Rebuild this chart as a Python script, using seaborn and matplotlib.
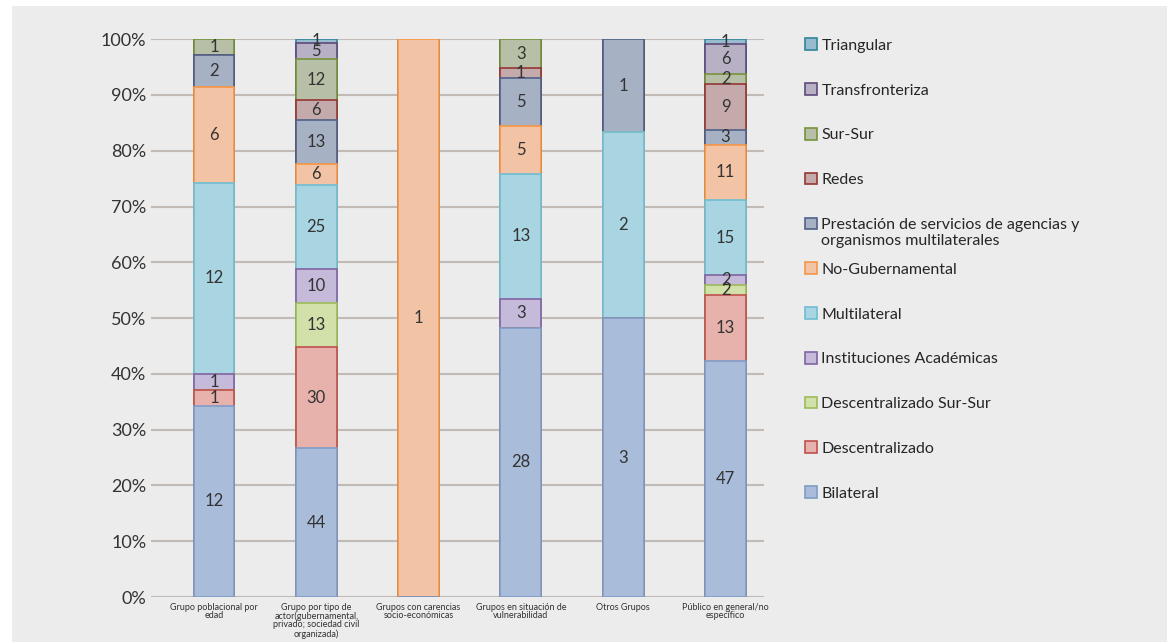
import numpy as np
import pandas as pd
import seaborn as sns
import matplotlib.pyplot as plt
from matplotlib.patches import Patch, Rectangle

grupos = ['Grupo poblacional por\nedad',
          'Grupo por tipo de\nactor(gubernamental,\nprivado; sociedad civil\norganizada)',
          'Grupos con carencias\nsocio-económicas',
          'Grupos en situación de\nvulnerabilidad',
          'Otros Grupos',
          'Público en general/no\nespecífico']

# series from bottom to top of each bar
series = ['Bilateral', 'Descentralizado', 'Descentralizado Sur-Sur', 'Instituciones Académicas',
          'Multilateral', 'No-Gubernamental',
          'Prestación de servicios de agencias y',
          'Redes', 'Sur-Sur', 'Transfronteriza', 'Triangular']
segunda_linea = 'organismos multilaterales'  # rest of the "Prestación ..." legend label

bilateral = [12, 44, 0, 28, 3, 47]
descentralizado = [1, 30, 0, 0, 0, 13]
desc_sur_sur = [0, 13, 0, 0, 0, 2]
academicas = [1, 10, 0, 3, 0, 2]
multilateral = [12, 25, 0, 13, 2, 15]
no_gubernamental = [6, 6, 1, 5, 0, 11]
prestacion = [2, 13, 0, 5, 1, 3]
redes = [0, 6, 0, 1, 0, 9]
sur_sur = [1, 12, 0, 3, 0, 2]
transfronteriza = [0, 5, 0, 0, 0, 6]
triangular = [0, 1, 0, 0, 0, 1]

valores = [bilateral, descentralizado, desc_sur_sur, academicas, multilateral,
           no_gubernamental, prestacion, redes, sur_sur, transfronteriza, triangular]

relleno = ['#a9bddb', '#e8b2ac', '#d2e0a9', '#c6badb', '#a9d4e2', '#f2c3a4',
           '#a7b1c4', '#c4aaaa', '#b7c0a6', '#b8b1c6', '#98bccf']
borde = ['#7f9cc7', '#c0504d', '#9bbb59', '#8064a2', '#6fbdd4', '#f79646',
         '#4f6189', '#943634', '#76923c', '#5f497a', '#31849b']

counts = np.array(valores, dtype=float)
totales = counts.sum(axis=0)
pct = counts / totales * 100
acum = pct.cumsum(axis=0)

sns.set_style('white')
plt.rcParams['font.family'] = ['Lato', 'DejaVu Sans']

fig = plt.figure(figsize=(11.67, 6.42), dpi=100, facecolor='white')
fig.patches.append(Rectangle((12/1167, 0), 1, 636/642, transform=fig.transFigure,
                             facecolor='#ececec', edgecolor='none', zorder=-10))
ax = fig.add_axes([0.129, 0.070, 0.526, 0.869])
ax.set_facecolor('#ececec')

# draw cumulative bars from top series down so lower segments cover the upper ones
for i in range(len(series) - 1, -1, -1):
    d = pd.DataFrame({'grupo': grupos, 'valor': acum[i]})
    sns.barplot(data=d, x='grupo', y='valor', order=grupos, color=relleno[i],
                edgecolor=borde[i], linewidth=1.2, width=0.4, saturation=1,
                ax=ax, zorder=3)

# value labels
for i in range(len(series)):
    for j in range(len(grupos)):
        if counts[i, j] > 0:
            centro = acum[i, j] - pct[i, j] / 2
            ax.text(j, centro, f'{int(counts[i, j])}', ha='center', va='center',
                    fontsize=12, color='#333333', zorder=5)

ax.set_ylim(0, 100)
ax.set_xlim(-0.62, 5.38)
ax.set_yticks(np.arange(0, 101, 10))
ax.set_yticklabels([f'{v}%' for v in range(0, 101, 10)], fontsize=13, color='#333333')
ax.tick_params(axis='y', length=0, pad=3)
ax.tick_params(axis='x', length=0, pad=4)
ax.set_xticks(range(len(grupos)))
ax.set_xticklabels(grupos, fontsize=6.5, color='#333333', linespacing=0.95)
ax.yaxis.grid(True, color='#c2bbb5', linewidth=1.5, zorder=0)
ax.set_axisbelow(True)
ax.set_xlabel('')
ax.set_ylabel('')
sns.despine(ax=ax, left=True, bottom=True)

handles = [Patch(facecolor=relleno[i], edgecolor=borde[i], linewidth=1.2, label=series[i])
           for i in range(len(series) - 1, -1, -1)]
leg = fig.legend(handles=handles, loc='upper left', bbox_to_anchor=(0.684, 0.95),
                 frameon=False, fontsize=11.5, handlelength=0.75, handleheight=0.75,
                 handletextpad=0.3, labelspacing=1.9, borderaxespad=0)

# second line of the long label sits just under it, as in the original
fig.canvas.draw()
txt = [t for t in leg.get_texts() if t.get_text() == series[6]][0]
bb = txt.get_window_extent().transformed(fig.transFigure.inverted())
fig.text(bb.x0, bb.y0 - 0.003, segunda_linea, ha='left', va='top',
         fontsize=11.5, color=txt.get_color())

fig.savefig('out.png', dpi=100, facecolor=fig.get_facecolor())
